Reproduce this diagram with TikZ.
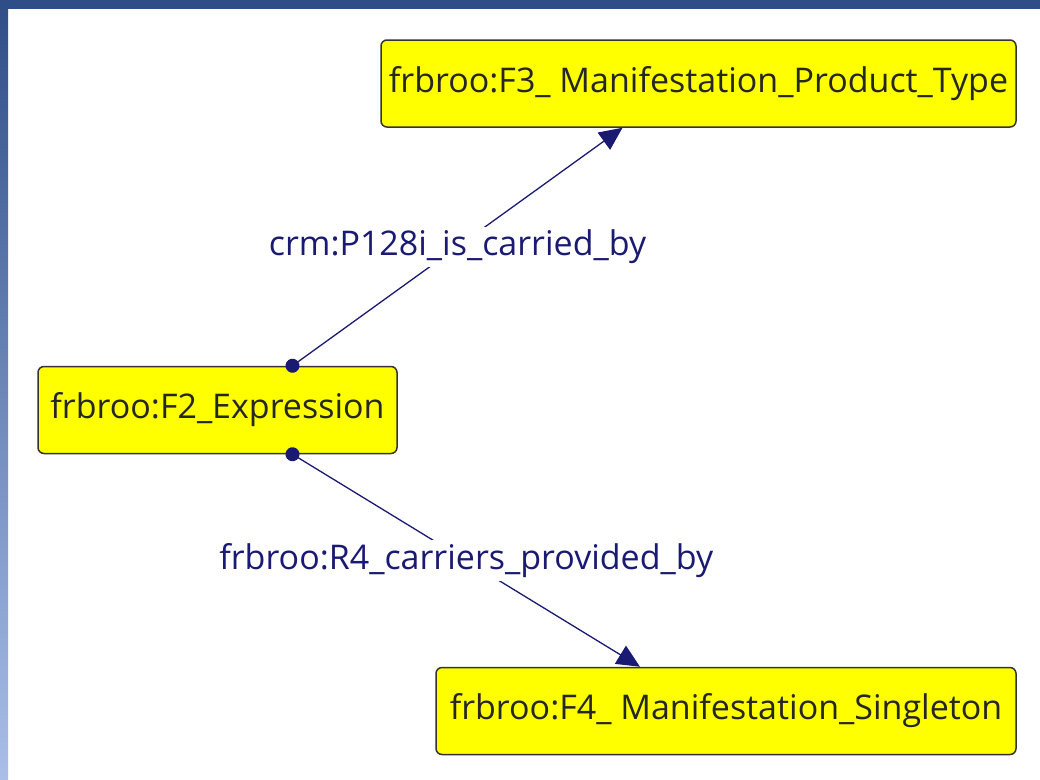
\documentclass[tikz,border=0pt]{standalone}
\usepackage{fontspec}
\setmainfont{Open Sans}
\usetikzlibrary{arrows.meta,positioning}
\definecolor{navy}{HTML}{1A1A72}
\definecolor{framedark}{HTML}{2F4E87}
\definecolor{framelight}{HTML}{A9BFE8}
\definecolor{boxyellow}{HTML}{FFFF00}

\begin{document}
\begin{tikzpicture}[x=1pt, y=-1pt,
  class/.style={rectangle, draw=black!80, line width=1.5pt, fill=boxyellow, rounded corners=6pt,
    minimum height=87pt, inner sep=0pt, text=black!85, font=\fontsize{34}{40}\selectfont},
  prop/.style={fill=white, text=navy, inner sep=3pt, font=\fontsize{34}{40}\selectfont},
  link/.style={draw=navy, line width=1.3pt, {Circle[length=14pt]}-{Triangle[length=23pt,width=21pt]}, shorten <=-7pt}
  ]
  \useasboundingbox (0,0) rectangle (1040,779);
  \fill[white] (0,0) rectangle (1040,779);
  \shade[top color=framedark, bottom color=framelight] (0,0) rectangle (8,779);
  \fill[framedark] (0,0) rectangle (1040,9);

  \node[class, minimum width=359pt] (F2) at (217.5,410) {frbroo:F2\_Expression};
  \node[class, minimum width=635pt] (F3) at (698.5,83.5) {frbroo:F3\_ Manifestation\_Product\_Type};
  \node[class, minimum width=580pt] (F4) at (726,711) {frbroo:F4\_ Manifestation\_Singleton};

  \draw[link] ([xshift=75pt]F2.north) -- node[prop] (L1) {crm:P128i\_is\_carried\_by} ([xshift=-76pt]F3.south);
  \draw[link] ([xshift=75pt]F2.south) -- node[prop] (L2) {frbroo:R4\_carriers\_provided\_by} ([xshift=-86pt]F4.north);
\end{tikzpicture}
\end{document}
